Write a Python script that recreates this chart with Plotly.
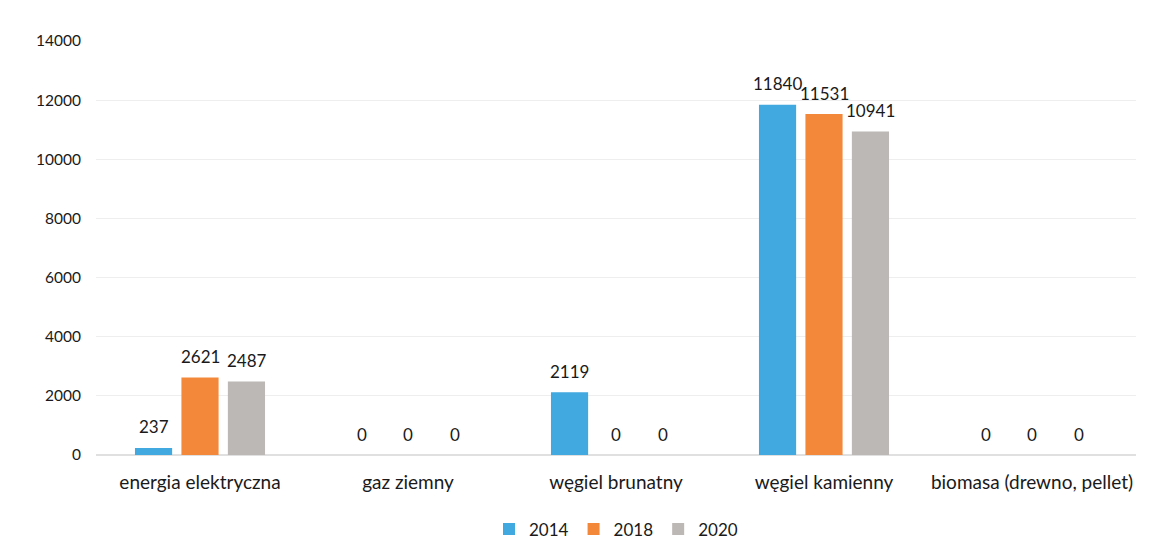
import plotly.graph_objects as go

categories = ["energia elektryczna", "gaz ziemny", "węgiel brunatny", "węgiel kamienny", "biomasa (drewno, pellet)"]
years = ["2014", "2018", "2020"]
v2014 = [237, 0, 2119, 11840, 0]
v2018 = [2621, 0, 0, 11531, 0]
v2020 = [2487, 0, 0, 10941, 0]
colors = ["#41a8e0", "#f4883a", "#bcb8b5"]
FONT = "Lato"

fig = go.Figure()
series = [v2014, v2018, v2020]
for name, vals, c in zip(years, series, colors):
    fig.add_trace(go.Bar(
        x=categories, y=vals, name=name, marker=dict(color=c, line=dict(width=0)),
    ))

# data labels above bars (slot offsets match bar group geometry)
slot = 46.5
for i, vals in enumerate(series):
    for cat, v in zip(categories, vals):
        fig.add_annotation(x=cat, y=v, xref="x", yref="y", text=str(v), showarrow=False,
                           xshift=(i - 1) * slot, yshift=21, yanchor="middle",
                           font=dict(size=17, color="#1a1a1a", family=FONT))

fig.update_layout(
    width=1145, height=549,
    margin=dict(l=88, r=17, t=33, b=102, autoexpand=False),
    paper_bgcolor="white", plot_bgcolor="white",
    font=dict(family=FONT, size=17, color="#1a1a1a"),
    barmode="group", bargap=0.33, bargroupgap=0.2,
    showlegend=True,
    legend=dict(orientation="h", x=0.5, xanchor="center", y=-0.18, yanchor="middle",
                font=dict(size=17), itemwidth=30, traceorder="normal"),
)
fig.update_yaxes(range=[0, 14000], dtick=2000, tickformat="d", showgrid=True, gridcolor="#eeeeee",
                 zeroline=True, zerolinecolor="#e0e0e0", ticks="", ticklabelstandoff=14,
                 tickfont=dict(size=15.5), automargin=False)
fig.update_xaxes(showline=False, ticks="", tickfont=dict(size=19), ticklabelstandoff=14,
                 automargin=False)

fig.write_html("out.html")
